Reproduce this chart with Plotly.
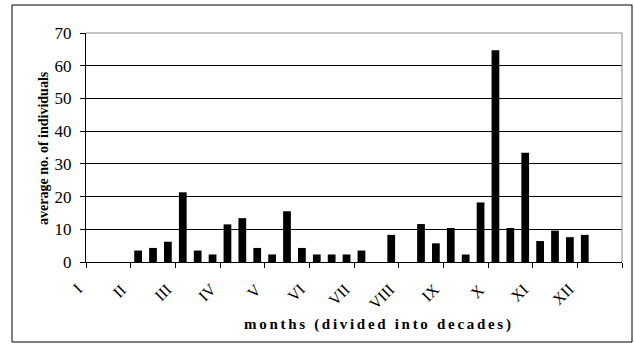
import plotly.graph_objects as go

months = ["I", "II", "III", "IV", "V", "VI", "VII", "VIII", "IX", "X", "XI", "XII"]
# average no. of individuals per decade (3 decades per month, 36 total)
values = [0, 0, 0,
          3.5, 4.3, 6.2,
          21.3, 3.5, 2.3,
          11.5, 13.4, 4.3,
          2.3, 15.5, 4.3,
          2.3, 2.3, 2.3,
          3.5, 0, 8.3,
          0, 11.6, 5.7,
          10.4, 2.3, 18.2,
          64.7, 10.4, 33.4,
          6.4, 9.6, 7.6,
          8.3, 0, 0]
y_ticks = [0, 10, 20, 30, 40, 50, 60, 70]

x_pos = [i + 0.5 for i in range(len(values))]
month_starts = [3 * i for i in range(len(months))]
tickvals = month_starts + [len(values)]

W, H = 634, 348
ML, MR, MT, MB = 86, 12, 33, 86
PW, PH = W - ML - MR, H - MT - MB

def px(x):
    return (x - ML) / PW

def py(y):
    return (H - MB - y) / PH

fig = go.Figure()
fig.add_trace(go.Bar(x=x_pos, y=values, width=0.52, hoverinfo="skip",
                     marker=dict(color="black", line=dict(width=0))))

font = "Liberation Serif, Times New Roman, serif"

annotations = [
    dict(text=m, xref="x", yref="paper", x=xv, y=py(278), xshift=2,
         textangle=-45, showarrow=False, xanchor="right", yanchor="top",
         font=dict(size=16, family=font, color="black"))
    for m, xv in zip(months, month_starts)
]
annotations += [
    dict(text="<b>average no. of individuals</b>", xref="paper", yref="paper",
         x=px(43), y=py(148), textangle=-90, showarrow=False,
         xanchor="center", yanchor="middle", font=dict(size=14, family=font)),
    dict(text='<span style="letter-spacing:2.7px"><b>months (divided into decades)</b></span>',
         xref="paper", yref="paper",
         x=px(379), y=py(325), showarrow=False,
         xanchor="center", yanchor="middle", font=dict(size=15, family=font)),
]

fig.update_layout(
    width=W, height=H,
    margin=dict(l=ML, r=MR, t=MT, b=MB, pad=0),
    paper_bgcolor="white", plot_bgcolor="white",
    showlegend=False,
    font=dict(family=font, color="black"),
    xaxis=dict(range=[0, len(values)], tickmode="array", tickvals=tickvals,
               showticklabels=False, ticks="outside", ticklen=5,
               tickcolor="black", showline=True, linecolor="black", linewidth=1,
               showgrid=False, zeroline=False),
    yaxis=dict(range=[0, 70], tickmode="array", tickvals=y_ticks,
               ticks="outside", ticklen=5, tickcolor="black", showline=True,
               linecolor="black", linewidth=1, showgrid=True, gridcolor="black",
               gridwidth=1, zeroline=False, tickfont=dict(size=17, family=font),
               ticklabelstandoff=5),
    shapes=[
        dict(type="line", xref="paper", yref="paper", x0=1, x1=1, y0=0, y1=1,
             line=dict(color="#888888", width=1)),
        dict(type="line", xref="paper", yref="paper", x0=0, x1=1, y0=1, y1=1,
             line=dict(color="#888888", width=1)),
        dict(type="rect", xref="paper", yref="paper",
             x0=px(12), x1=px(632), y0=py(342), y1=py(5),
             line=dict(color="black", width=1)),
    ],
    annotations=annotations,
)

fig.write_html("out.html", config={"displayModeBar": False},
               post_script="document.body.style.margin='0';document.body.style.overflow='hidden';")
